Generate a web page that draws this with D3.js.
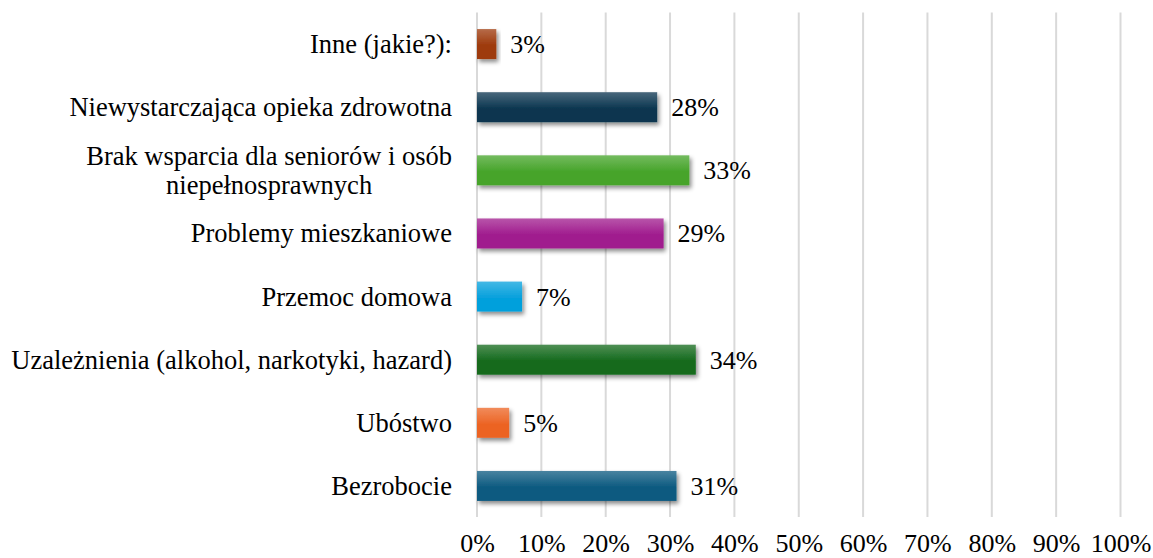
<!DOCTYPE html>
<html>
<head>
<meta charset="utf-8">
<script src="https://cdn.jsdelivr.net/npm/d3@7"></script>
<style>
  html, body { margin: 0; padding: 0; background: #fff; }
  svg { display: block; }
  text { font-family: "Liberation Serif", "Times New Roman", serif; fill: #000; }
</style>
</head>
<body>
<svg id="chart" width="1153" height="558"></svg>
<script>
// ---- data ----
const categories = [
  "Inne (jakie?):",
  "Niewystarczająca opieka zdrowotna",
  "Brak wsparcia dla seniorów i osób|niepełnosprawnych",
  "Problemy mieszkaniowe",
  "Przemoc domowa",
  "Uzależnienia (alkohol, narkotyki, hazard)",
  "Ubóstwo",
  "Bezrobocie"
];
const values = [3, 28, 33, 29, 7, 34, 5, 31];
const barColors = ["#9e3a0c", "#0c3650", "#46a42a", "#a01c8e", "#05a0dc", "#146a1c", "#ec6424", "#0c5a80"];
const tickValues = [0, 10, 20, 30, 40, 50, 60, 70, 80, 90, 100];

// ---- layout ----
const svg = d3.select("#chart");
const fontSize = 26;
const catFontSize = 26.5;
const x = d3.scaleLinear().domain([0, 100]).range([477, 1120.5]);
const y = d3.scaleBand().domain(d3.range(categories.length))
  .range([12.5, 517.5]).paddingInner(0.525).paddingOuter(0.2625);

const defs = svg.append("defs");
const filt = defs.append("filter").attr("id", "shadow")
  .attr("x", "-10%").attr("y", "-30%").attr("width", "130%").attr("height", "180%");
filt.append("feDropShadow").attr("dx", 2).attr("dy", 3).attr("stdDeviation", 2)
  .attr("flood-color", "#000").attr("flood-opacity", 0.45);

barColors.forEach((c, i) => {
  const g = defs.append("linearGradient").attr("id", "grad" + i)
    .attr("x1", 0).attr("y1", 0).attr("x2", 0).attr("y2", 1);
  g.append("stop").attr("offset", "0%").attr("stop-color", d3.interpolateRgb(c, "#fff")(0.25));
  g.append("stop").attr("offset", "55%").attr("stop-color", c);
  g.append("stop").attr("offset", "100%").attr("stop-color", c);
});

// gridlines
const xAxis = d3.axisBottom(x).tickValues(tickValues).tickSize(0).tickFormat(d => d + "%");
svg.append("g").selectAll("line").data(tickValues).join("line")
  .attr("x1", d => x(d)).attr("x2", d => x(d))
  .attr("y1", 12.5).attr("y2", 517)
  .attr("stroke", "#d9d9d9").attr("stroke-width", 2);

// tick labels via axis
const ax = svg.append("g").attr("transform", "translate(0,552)").call(xAxis);
ax.select(".domain").remove();
ax.selectAll("text").attr("y", 0).attr("dy", 0)
  .attr("font-size", fontSize).attr("font-family", "Liberation Serif, Times New Roman, serif")
  .attr("fill", "#000");

// bars
svg.append("g").selectAll("rect").data(values).join("rect")
  .attr("x", x(0))
  .attr("y", (d, i) => y(i))
  .attr("width", d => x(d) - x(0))
  .attr("height", y.bandwidth())
  .attr("fill", (d, i) => "url(#grad" + i + ")")
  .attr("filter", "url(#shadow)");

// value labels
svg.append("g").selectAll("text").data(values).join("text")
  .attr("x", d => x(d) + 14)
  .attr("y", (d, i) => y(i) + y.bandwidth() / 2 + 9)
  .attr("font-size", fontSize)
  .text(d => d + "%");

// category labels
const labelRight = 452;
const lineH = 29;
categories.forEach((c, i) => {
  const lines = c.split("|");
  const cy = y(i) + y.bandwidth() / 2;
  const t = svg.append("text").attr("font-size", catFontSize);
  if (lines.length === 1) {
    t.attr("x", labelRight).attr("y", cy + 9).attr("text-anchor", "end").text(lines[0]);
  } else {
    const tmp = svg.append("text").attr("font-size", catFontSize);
    const widths = lines.map(l => { tmp.text(l); return tmp.node().getComputedTextLength(); });
    tmp.remove();
    const w = d3.max(widths);
    const cx = labelRight - w / 2;
    lines.forEach((l, k) => {
      t.append("tspan").attr("x", cx).attr("text-anchor", "middle")
        .attr("y", cy + 9 + (k - (lines.length - 1) / 2) * lineH).text(l);
    });
  }
});
</script>
</body>
</html>
